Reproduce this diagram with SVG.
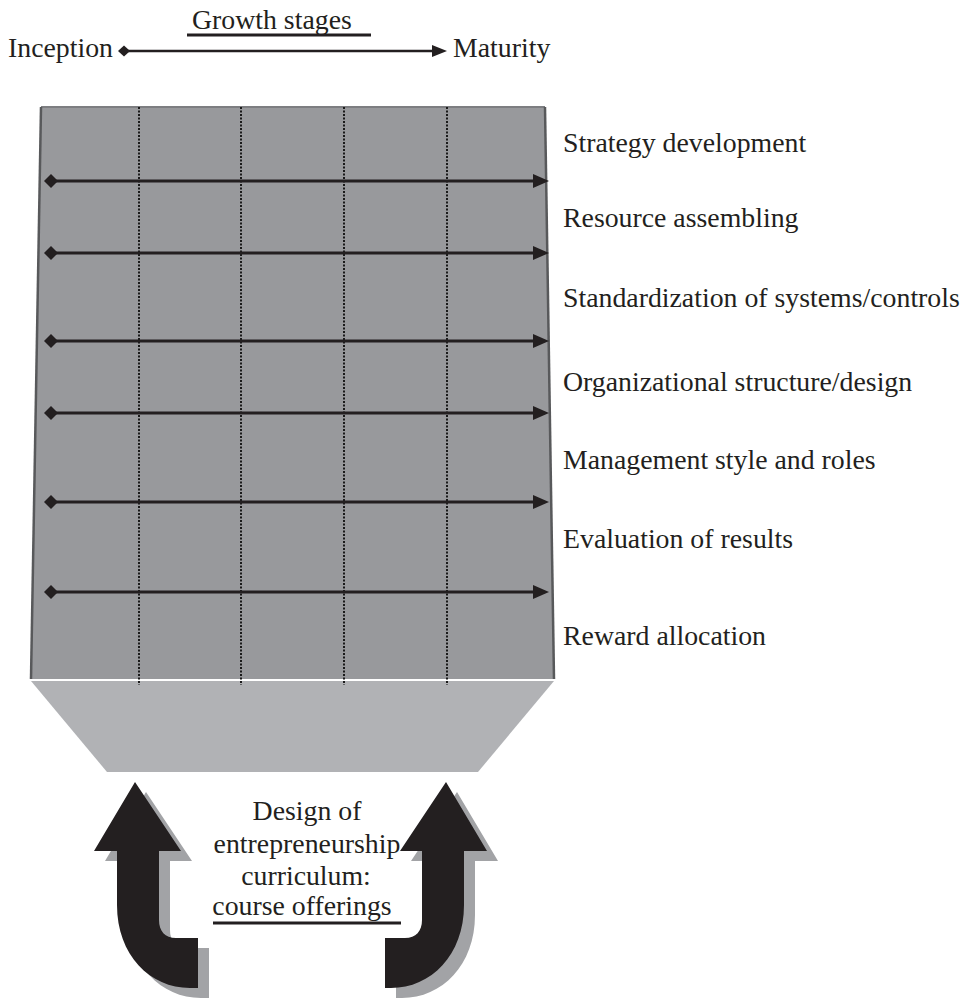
<svg xmlns="http://www.w3.org/2000/svg" width="966" height="998" viewBox="0 0 966 998">
  <style>
    .t { font-family: "Liberation Serif", "Times New Roman", serif; font-size: 27.8px; fill: #231f20; }
    .ln { stroke: #231f20; stroke-width: 2.8; fill: none; }
    .dot { stroke: #1a1a1a; stroke-width: 2; stroke-dasharray: 2 1.5; fill: none; }
    .blk { fill: #231f20; }
    .shd { fill: #a2a3a6; }
  </style>
  <defs>
    <marker id="dia" markerUnits="userSpaceOnUse" markerWidth="16" markerHeight="16" refX="8" refY="8" orient="auto">
      <path d="M1,8 L8,1 L15,8 L8,15 Z" fill="#231f20"/>
    </marker>
    <marker id="arr" markerUnits="userSpaceOnUse" markerWidth="17" markerHeight="16" refX="2" refY="8" orient="auto">
      <path d="M0,1 L16,8 L0,15 Z" fill="#231f20"/>
    </marker>
    <marker id="dia2" markerUnits="userSpaceOnUse" markerWidth="14" markerHeight="14" refX="7" refY="7" orient="auto">
      <path d="M1,7 L7,1.5 L13,7 L7,12.5 Z" fill="#231f20"/>
    </marker>
    <marker id="arr2" markerUnits="userSpaceOnUse" markerWidth="16" markerHeight="14" refX="2" refY="7" orient="auto">
      <path d="M0,1 L15,7 L0,13 Z" fill="#231f20"/>
    </marker>
  </defs>

  <g id="header">
    <text class="t" x="8" y="57">Inception</text>
    <text class="t" x="192" y="29">Growth stages</text>
    <line class="ln" x1="187" y1="35" x2="371" y2="35"/>
    <text class="t" x="453" y="57">Maturity</text>
    <line x1="124" y1="51" x2="434" y2="51" stroke="#231f20" stroke-width="2.5" marker-start="url(#dia2)" marker-end="url(#arr2)"/>
  </g>

  <g id="matrix">
    <polygon points="41,107 545,107 554,679 31,679" fill="#98999c"/>
    <polygon points="31,681 554,681 478,772 107,772" fill="#b1b2b5"/>
    <line x1="31" y1="680" x2="554" y2="680" stroke="#ffffff" stroke-width="2"/>
    <line x1="41" y1="107" x2="545" y2="107" stroke="#7d7e81" stroke-width="2"/>
    <line x1="41" y1="107" x2="31" y2="679" stroke="#58595b" stroke-width="2.5"/>
    <line x1="545" y1="107" x2="554" y2="679" stroke="#58595b" stroke-width="2.5"/>
    <line class="dot" x1="139" y1="107" x2="139" y2="685"/>
    <line class="dot" x1="241" y1="107" x2="241" y2="685"/>
    <line class="dot" x1="344" y1="107" x2="344" y2="685"/>
    <line class="dot" x1="447" y1="107" x2="447" y2="685"/>
  </g>

  <g id="connectors">
    <line class="ln" x1="51" y1="181" x2="535" y2="181" marker-start="url(#dia)" marker-end="url(#arr)"/>
    <line class="ln" x1="51" y1="253" x2="535" y2="253" marker-start="url(#dia)" marker-end="url(#arr)"/>
    <line class="ln" x1="51" y1="341" x2="535" y2="341" marker-start="url(#dia)" marker-end="url(#arr)"/>
    <line class="ln" x1="51" y1="413" x2="535" y2="413" marker-start="url(#dia)" marker-end="url(#arr)"/>
    <line class="ln" x1="51" y1="502" x2="535" y2="502" marker-start="url(#dia)" marker-end="url(#arr)"/>
    <line class="ln" x1="51" y1="592" x2="535" y2="592" marker-start="url(#dia)" marker-end="url(#arr)"/>
  </g>

  <g id="labels">
    <text class="t" x="563" y="152">Strategy development</text>
    <text class="t" x="563" y="227">Resource assembling</text>
    <text class="t" x="563" y="307">Standardization of systems/controls</text>
    <text class="t" x="563" y="391">Organizational structure/design</text>
    <text class="t" x="563" y="469">Management style and roles</text>
    <text class="t" x="563" y="548">Evaluation of results</text>
    <text class="t" x="563" y="645">Reward allocation</text>
  </g>

  <g id="left-arrow">
    <path class="shd" transform="translate(11,10)" d="M135,782 L94,851 L117,851 L117,905 C117,955 150,988 190,988 L198,988 L198,938 L176,938 C165,938 159,931 159,920 L159,851 L181,851 Z"/>
    <path class="blk" d="M135,782 L94,851 L117,851 L117,905 C117,955 150,988 190,988 L198,988 L198,938 L176,938 C165,938 159,931 159,920 L159,851 L181,851 Z"/>
  </g>

  <g id="right-arrow">
    <path class="shd" transform="translate(11,10)" d="M446,782 L487,851 L464,851 L464,905 C464,955 431,988 391,988 L385,988 L385,938 L405,938 C416,938 422,931 422,920 L422,851 L400,851 Z"/>
    <path class="blk" d="M446,782 L487,851 L464,851 L464,905 C464,955 431,988 391,988 L385,988 L385,938 L405,938 C416,938 422,931 422,920 L422,851 L400,851 Z"/>
  </g>

  <g id="curriculum">
    <text class="t" x="307" y="820" text-anchor="middle">Design of</text>
    <text class="t" x="307" y="853" text-anchor="middle">entrepreneurship</text>
    <text class="t" x="306" y="885" text-anchor="middle">curriculum:</text>
    <text class="t" x="302" y="915" text-anchor="middle">course offerings</text>
    <line class="ln" x1="213" y1="923" x2="401" y2="923"/>
  </g>
</svg>
